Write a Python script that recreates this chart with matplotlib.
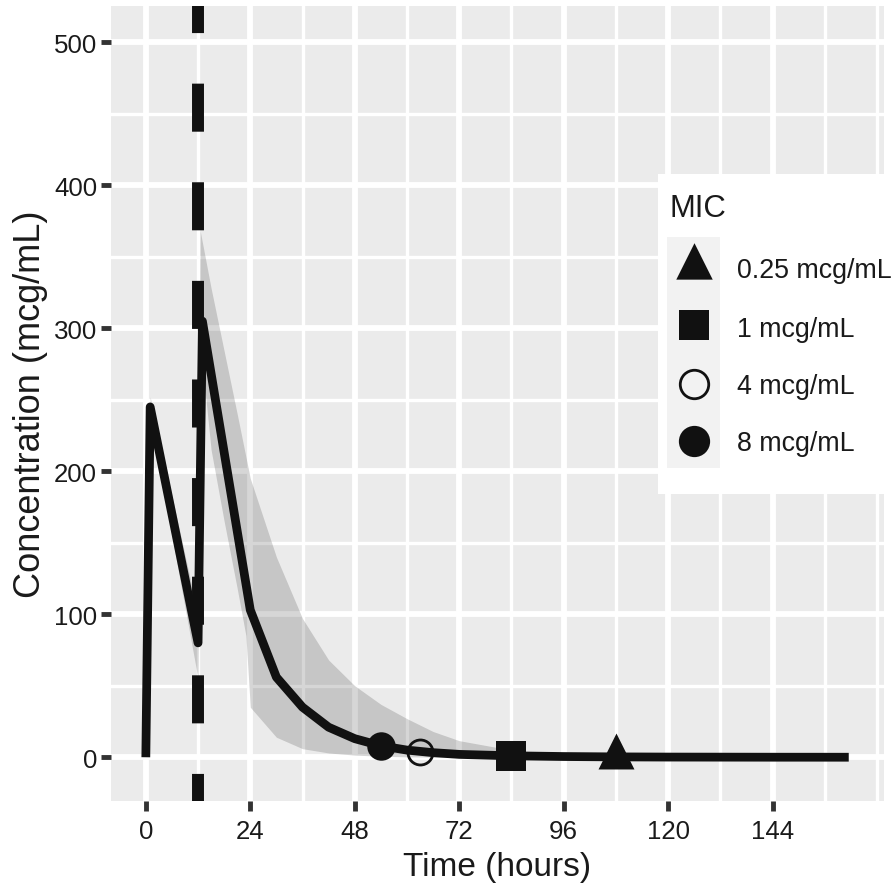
import numpy as np
import matplotlib.pyplot as plt
from matplotlib.path import Path
from matplotlib.patches import Rectangle
from matplotlib.ticker import FixedLocator, MultipleLocator

plt.rcParams['font.family'] = ['Liberation Sans', 'DejaVu Sans']
plt.rcParams['lines.scale_dashes'] = False

# median concentration-time profile (two 1 h infusions, q12h)
time_h = [0, 1, 12, 13, 24, 30, 36, 42, 48, 54, 60, 66, 72, 84, 96, 108, 120, 144, 161.5]
conc_med = [0, 245, 80, 305, 103, 56, 35, 21, 13, 8, 5, 3.2, 2, 1, 0.5, 0.25, 0.12, 0.03, 0.01]

# shaded prediction band
band_t = [0, 1, 12, 12.5, 13, 15, 18, 21, 23, 24, 30, 36, 42, 48, 54, 60, 66, 72,
          84, 96, 108, 120, 144, 161.5]
band_lo = [0, 238, 55, 290, 275, 215, 165, 118, 85, 35, 14, 6, 3, 1.5, 0.7, 0.3, 0.1, 0.05,
           0, 0, 0, 0, 0, 0]
band_hi = [0, 252, 100, 368, 360, 328, 284, 240, 210, 195, 140, 97, 68, 50, 37, 27, 18, 11.6,
           5, 1.5, 0.5, 0.2, 0.05, 0]

dose_time = 12

# time when concentration falls below each MIC
mic_labels = ['0.25 mcg/mL', '1 mcg/mL', '4 mcg/mL', '8 mcg/mL']
mic_time = [108, 84, 63, 54]
mic_conc = [0.25, 1, 4, 8]

x_ticks = [0, 24, 48, 72, 96, 120, 144]

ink = '#111111'
tri = Path([(0, 1), (-0.75, -0.5), (0.75, -0.5), (0, 1)], closed=True)
styles = [
    dict(marker=tri, ms=34.5, mfc=ink, mec=ink, mew=0),
    dict(marker='s', ms=21, mfc=ink, mec=ink, mew=0),
    dict(marker='o', ms=18, mfc='none', mec=ink, mew=2),
    dict(marker='o', ms=20.5, mfc=ink, mec=ink, mew=0),
]
leg_sizes = [35, 22, 20.5, 22.5]

W, H = 894, 887
fig = plt.figure(figsize=(W / 100, H / 100), dpi=100)
ax = fig.add_axes([111 / W, (H - 802) / H, (884 - 111) / W, (802 - 7) / H])
ax.set_facecolor('#EBEBEB')
for s in ax.spines.values():
    s.set_visible(False)

ax.fill_between(band_t, band_lo, band_hi, color='#333333', alpha=0.2, lw=0, zorder=2)
ax.plot(time_h, conc_med, color=ink, lw=6.3, solid_joinstyle='round',
        solid_capstyle='butt', zorder=3)
ax.axvline(dose_time, color=ink, lw=8.6, linestyle=(15.1, (34.6, 36.4)), zorder=4)

for t, c, st in zip(mic_time, mic_conc, styles):
    ax.plot([t], [c], ls='none', zorder=5, **st)

ax.set_xlim(-8.0, 169.6)
ax.set_ylim(-30.6, 525.4)
ax.xaxis.set_major_locator(FixedLocator(x_ticks))
ax.xaxis.set_minor_locator(MultipleLocator(12))
ax.yaxis.set_major_locator(MultipleLocator(100))
ax.yaxis.set_minor_locator(MultipleLocator(50))
ax.set_axisbelow(True)
ax.grid(which='major', color='white', lw=4.2)
ax.grid(which='minor', color='white', lw=2.4)
ax.tick_params(which='minor', length=0)
ax.tick_params(which='major', length=7, width=3.5, color='#333333',
               labelsize=18.6, labelcolor='#1a1a1a')
ax.tick_params(axis='x', pad=6)
ax.tick_params(axis='y', pad=3)
ax.set_xlabel('Time (hours)', fontsize=24, color='#1a1a1a', labelpad=6)
ax.set_ylabel('Concentration (mcg/mL)', fontsize=26, color='#1a1a1a', labelpad=4)

# legend box (pixel coordinates)
lg = fig.add_axes([658 / W, (H - 495) / H, (W - 658) / W, (495 - 175) / H])
lg.set_xlim(658, W)
lg.set_ylim(495, 175)
lg.set_facecolor('white')
lg.set_xticks([])
lg.set_yticks([])
for s in lg.spines.values():
    s.set_visible(False)
lg.add_patch(Rectangle((667, 238), 53, 231, color='#F2F2F2', lw=0))
lg.text(670, 216.7, 'MIC', fontsize=22.4, color='#1a1a1a', va='baseline')
key_y = [268.3, 326, 385, 442]
base_y = [278.3, 337, 394, 451]
for lab, st, ms, ky, by in zip(mic_labels, styles, leg_sizes, key_y, base_y):
    st = dict(st, ms=ms)
    lg.plot([693.5], [ky], ls='none', **st)
    lg.text(737, by, lab, fontsize=19.3, color='#1a1a1a', va='baseline')

fig.savefig('out.png', dpi=100)
